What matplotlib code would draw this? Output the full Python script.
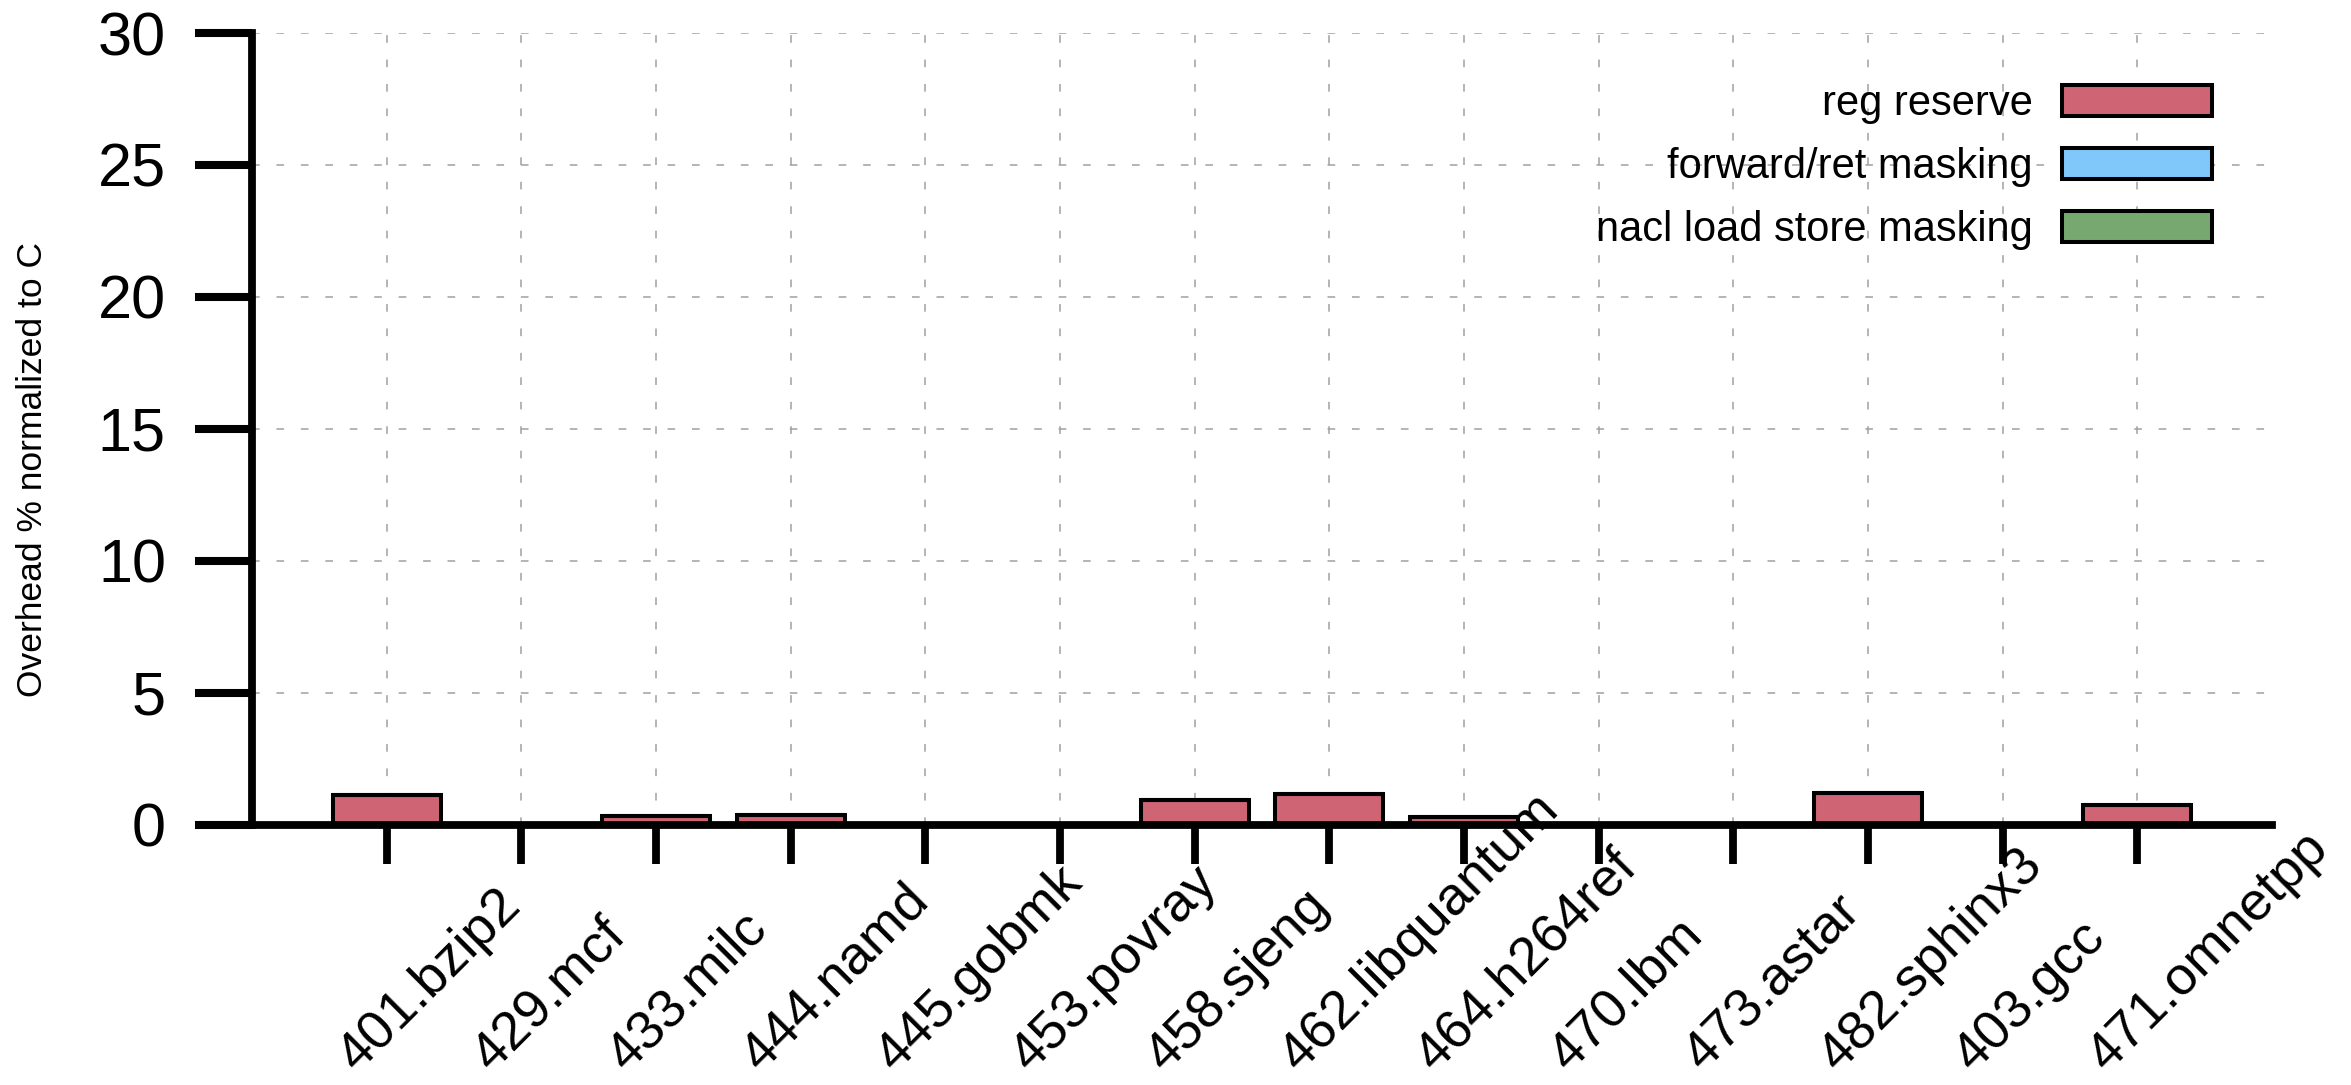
import matplotlib
matplotlib.use("Agg")
import matplotlib.pyplot as plt
import matplotlib.transforms as mtransforms
import numpy as np

plt.rcParams['font.family'] = ['Liberation Sans', 'DejaVu Sans']

benchmarks = ["401.bzip2", "429.mcf", "433.milc", "444.namd", "445.gobmk",
              "453.povray", "458.sjeng", "462.libquantum", "464.h264ref",
              "470.lbm", "473.astar", "482.sphinx3", "403.gcc", "471.omnetpp"]
reg_reserve = [1.12, 0.0, 0.32, 0.36, 0.0, 0.0, 0.92, 1.16, 0.28, 0.0, 0.0, 1.18, 0.0, 0.73]
forward_ret_masking = [0.0] * 14
nacl_load_store_masking = [0.0] * 14
series_names = ["reg reserve", "forward/ret masking", "nacl load store masking"]
series_colors = ["#CF6474", "#80C8FA", "#76A870"]
yticks = [0, 5, 10, 15, 20, 25, 30]

fig = plt.figure(figsize=(23.51, 10.85), dpi=100)
ax = fig.add_axes([252 / 2351, 1 - 824.5 / 1085, (2272 - 252) / 2351, (824.5 - 33) / 1085])

x = np.arange(len(benchmarks))
bottom = np.zeros(len(benchmarks))
for vals, name, col in zip([reg_reserve, forward_ret_masking, nacl_load_store_masking],
                           series_names, series_colors):
    ax.bar(x, vals, width=0.8, bottom=bottom, color=col, edgecolor='black',
           linewidth=2.9, label=name, zorder=2)
    bottom = bottom + np.array(vals)

ax.set_xlim(-1, 14)
ax.set_ylim(0, 30)
ax.set_yticks(yticks)
ax.set_yticklabels([str(v) for v in yticks], fontsize=44)
ax.set_xticks(x)
ax.set_xticklabels(benchmarks, rotation=45, ha='left', va='baseline',
                   rotation_mode='anchor', fontsize=39)

ax.spines['top'].set_visible(False)
ax.spines['right'].set_visible(False)
ax.spines['left'].set_linewidth(5.6)
ax.spines['bottom'].set_linewidth(5.6)

ax.tick_params(axis='y', direction='out', length=41, width=5.8, pad=21)
ax.tick_params(axis='x', direction='out', length=28, width=5.6, pad=151)

offset = mtransforms.ScaledTranslation(-30 / 100, 0, fig.dpi_scale_trans)
for lab in ax.get_xticklabels():
    lab.set_transform(lab.get_transform() + offset)

ax.set_axisbelow(True)
ax.grid(True, color='#a0a0a0', linestyle=(0, (5, 11)), linewidth=1.1)

ax.set_ylabel("Overhead % normalized to C", fontsize=25.5, va='center')
ax.yaxis.set_label_coords((33 - 252) / (2272 - 252), 0.449)

leg = ax.legend(loc='upper right', bbox_to_anchor=(2212 / 2351, 1 - 84 / 1085),
                bbox_transform=fig.transFigure, markerfirst=False, frameon=False,
                fontsize=30, handlelength=3.6, handleheight=0.75,
                handletextpad=0.7, labelspacing=0.55, borderpad=0, borderaxespad=0)

fig.savefig("out.png", dpi=100)
